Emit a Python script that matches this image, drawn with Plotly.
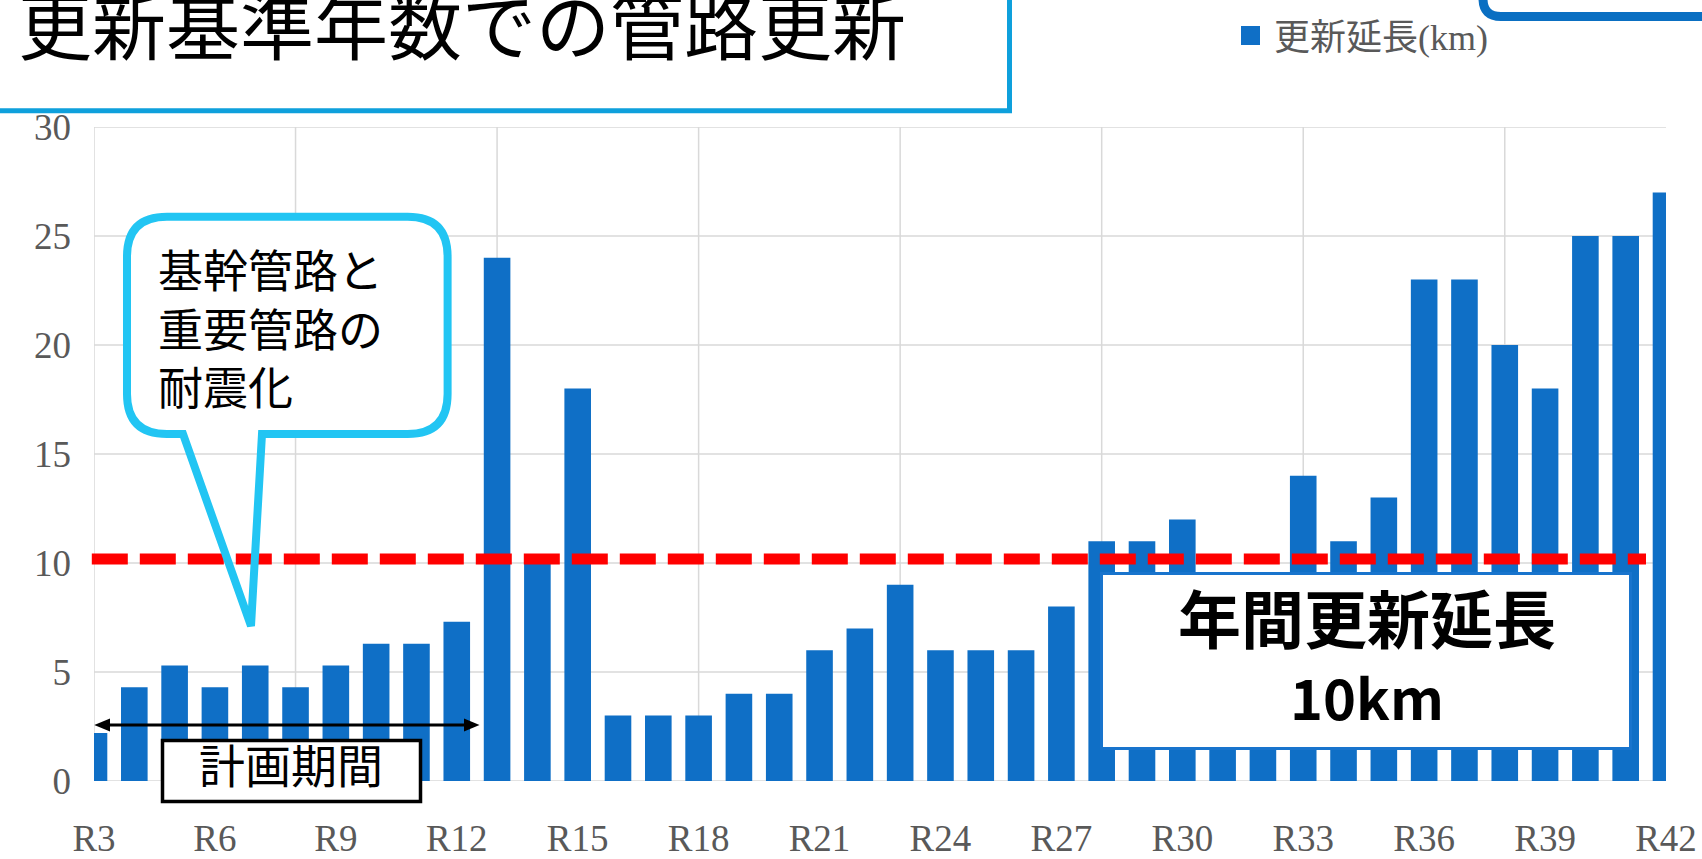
import plotly.graph_objects as go

# ---------------- data ----------------
categories = ["R3", "R4", "R5", "R6", "R7", "R8", "R9", "R10", "R11", "R12",
              "R13", "R14", "R15", "R16", "R17", "R18", "R19", "R20", "R21", "R22",
              "R23", "R24", "R25", "R26", "R27", "R28", "R29", "R30", "R31", "R32",
              "R33", "R34", "R35", "R36", "R37", "R38", "R39", "R40", "R41", "R42"]
renewal_km = [2.2, 4.3, 5.3, 4.3, 5.3, 4.3, 5.3, 6.3, 6.3, 7.3,
              24, 10, 18, 3, 3, 3, 4, 4, 6, 7,
              9, 6, 6, 6, 8, 11, 11, 12, 9, 9,
              14, 11, 13, 23, 23, 20, 18, 25, 25, 27]
target_km = 10
x_tick_labels = categories[::3]
x_grid_cats = categories[::5]
y_ticks = [0, 5, 10, 15, 20, 25, 30]

series_name = "更新延長(km)"
title_text = "更新基準年数での管路更新"
bubble_text = "基幹管路と<br>重要管路の<br>耐震化"
box_line1 = "年間更新延長"
box_line2 = "10km"
period_text = "計画期間"

# ---------------- layout helpers ----------------
W, H = 1702, 859
ML, MR, MT, MB = 94, 36, 127, 78
PW = W - ML - MR
PH = H - MT - MB

def xp(px):
    return (px - ML) / PW

def yp(py):
    return (H - MB - py) / PH

def pt(x, y):
    return f"{xp(x):.5f},{yp(y):.5f}"

BAR = "#0f6fc6"
GRID = "#d9d9d9"
LABEL = "#595959"
CJK = "Noto Sans CJK JP"
SERIF = "Liberation Serif, Noto Sans CJK JP"

fig = go.Figure()
fig.add_trace(go.Bar(x=categories, y=renewal_km, width=0.66,
                     marker=dict(color=BAR, line=dict(width=0)),
                     name=series_name, showlegend=False, hoverinfo="x+y"))

shapes = []
# gridlines
for v in y_ticks:
    shapes.append(dict(type="line", xref="paper", yref="y", x0=0, x1=1, y0=v, y1=v,
                       line=dict(color=GRID, width=1.5), layer="below"))
for c in x_grid_cats:
    shapes.append(dict(type="line", xref="x", yref="paper", x0=c, x1=c, y0=0, y1=1,
                       line=dict(color=GRID, width=1.5), layer="below"))

# red dashed target line
shapes.append(dict(type="line", xref="paper", yref="y", ysizemode="pixel", yanchor=target_km,
                   x0=xp(91.8), x1=xp(1646), y0=4, y1=4,
                   line=dict(color="#ff0000", width=11, dash="36px,12px"), layer="above"))

# title box
shapes.append(dict(type="rect", xref="paper", yref="paper",
                   x0=xp(-20), x1=xp(1009.5), y0=yp(110.8), y1=yp(-20),
                   line=dict(color="#0ea0dc", width=5), fillcolor="white", layer="above"))

# top-right rounded box corner
cx, cy, r = 1483, 16.5, 18
shapes.append(dict(type="path", xref="paper", yref="paper",
                   path=f"M{pt(cx, -30)} L{pt(cx, cy - r)} Q{pt(cx, cy)} {pt(cx + r, cy)} L{pt(1730, cy)}",
                   line=dict(color="#0a6fc2", width=9), layer="above"))

# legend square
shapes.append(dict(type="rect", xref="paper", yref="paper",
                   x0=xp(1241), x1=xp(1260), y0=yp(45), y1=yp(26),
                   line=dict(width=0), fillcolor=BAR, layer="above"))

# speech bubble
bx0, bx1, by0, by1, br = 127, 447.6, 216.7, 434, 40
body = (f"M{pt(bx0 + br, by0)} L{pt(bx1 - br, by0)} Q{pt(bx1, by0)} {pt(bx1, by0 + br)} "
        f"L{pt(bx1, by1 - br)} Q{pt(bx1, by1)} {pt(bx1 - br, by1)} "
        f"L{pt(bx0 + br, by1)} Q{pt(bx0, by1)} {pt(bx0, by1 - br)} "
        f"L{pt(bx0, by0 + br)} Q{pt(bx0, by0)} {pt(bx0 + br, by0)} Z")
outline = (f"M{pt(bx0 + br, by0)} L{pt(bx1 - br, by0)} Q{pt(bx1, by0)} {pt(bx1, by0 + br)} "
           f"L{pt(bx1, by1 - br)} Q{pt(bx1, by1)} {pt(bx1 - br, by1)} "
           f"L{pt(262, by1)} L{pt(251, 626)} L{pt(183, by1)} "
           f"L{pt(bx0 + br, by1)} Q{pt(bx0, by1)} {pt(bx0, by1 - br)} "
           f"L{pt(bx0, by0 + br)} Q{pt(bx0, by0)} {pt(bx0 + br, by0)} Z")
shapes.append(dict(type="path", xref="paper", yref="paper", path=body,
                   line=dict(width=0), fillcolor="white", layer="above"))
shapes.append(dict(type="path", xref="paper", yref="paper", path=outline,
                   line=dict(color="#22c5f3", width=8), fillcolor="rgba(0,0,0,0)", layer="above"))

# annual length box
shapes.append(dict(type="rect", xref="paper", yref="paper",
                   x0=xp(1101.5), x1=xp(1630.5), y0=yp(748.5), y1=yp(573.5),
                   line=dict(color="#1874cd", width=3), fillcolor="white", layer="above"))

# planning period arrow
shapes.append(dict(type="line", xref="paper", yref="paper",
                   x0=xp(104), x1=xp(470), y0=yp(725), y1=yp(725),
                   line=dict(color="black", width=3), layer="above"))
shapes.append(dict(type="path", xref="paper", yref="paper",
                   path=f"M{pt(94.3, 725)} L{pt(110, 718.5)} L{pt(110, 731.5)} Z",
                   line=dict(width=0), fillcolor="black", layer="above"))
shapes.append(dict(type="path", xref="paper", yref="paper",
                   path=f"M{pt(479.5, 725)} L{pt(464, 718.5)} L{pt(464, 731.5)} Z",
                   line=dict(width=0), fillcolor="black", layer="above"))
# planning period box
shapes.append(dict(type="rect", xref="paper", yref="paper",
                   x0=xp(162.5), x1=xp(420.5), y0=yp(801.5), y1=yp(740.5),
                   line=dict(color="black", width=3.5), fillcolor="white", layer="above"))

annotations = [
    dict(text=title_text, x=xp(462), y=yp(21), xref="paper", yref="paper",
         xanchor="center", yanchor="middle", showarrow=False,
         font=dict(family=CJK, size=74, color="black")),
    dict(text=series_name, x=xp(1272), y=yp(38), xref="paper", yref="paper",
         xanchor="left", yanchor="middle", showarrow=False,
         font=dict(family=SERIF, size=36, color=LABEL)),
    dict(text=bubble_text, x=xp(156), y=yp(327), xref="paper", yref="paper",
         xanchor="left", yanchor="middle", align="left", showarrow=False,
         font=dict(family=CJK, size=45, color="black")),
    dict(text=box_line1, x=xp(1366.5), y=yp(615.5), xref="paper", yref="paper",
         xanchor="center", yanchor="middle", showarrow=False,
         font=dict(family=CJK, size=63, color="black", weight="bold")),
    dict(text=box_line2, x=xp(1366.5), y=yp(695), xref="paper", yref="paper",
         xanchor="center", yanchor="middle", showarrow=False,
         font=dict(family=CJK, size=56, color="black", weight="bold")),
    dict(text=period_text, x=xp(291), y=yp(763), xref="paper", yref="paper",
         xanchor="center", yanchor="middle", showarrow=False,
         font=dict(family=CJK, size=46, color="black")),
]

fig.update_layout(
    width=W, height=H, autosize=False,
    margin=dict(l=ML, r=MR, t=MT, b=MB, pad=0),
    paper_bgcolor="white", plot_bgcolor="white",
    showlegend=False,
    bargap=0.34,
    shapes=shapes,
    annotations=annotations,
    xaxis=dict(type="category", range=[0, len(categories) - 1],
               tickmode="array", tickvals=x_tick_labels, ticktext=x_tick_labels,
               showgrid=False, zeroline=False, showline=False, ticks="",
               ticklabelstandoff=32, automargin=False, fixedrange=True,
               tickfont=dict(family=SERIF, size=37, color=LABEL)),
    yaxis=dict(range=[0, 30], tickmode="array", tickvals=y_ticks,
               showgrid=False, zeroline=False, showline=False, ticks="",
               ticklabelstandoff=22, automargin=False, fixedrange=True,
               tickfont=dict(family=SERIF, size=37, color=LABEL)),
)

fig.write_html("out.html")
